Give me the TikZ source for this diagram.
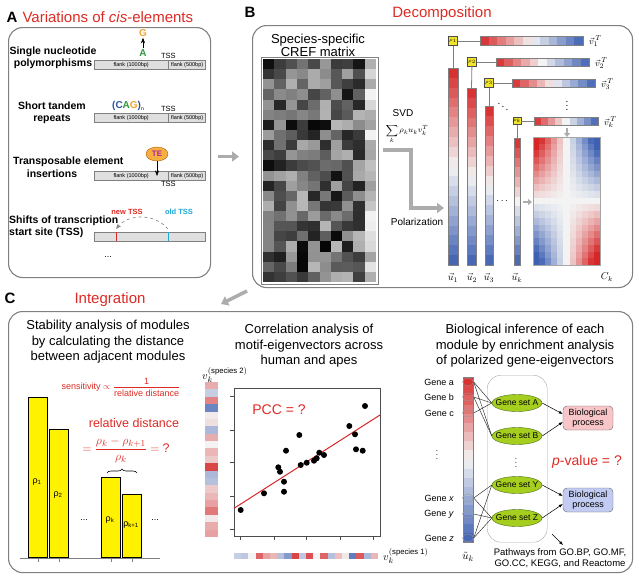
\documentclass[tikz,border=0pt]{standalone}
\usepackage{fontspec}
\setmainfont{Liberation Sans}
\usepackage{amsmath}
\usetikzlibrary{positioning,arrows.meta,shapes.geometric,decorations.pathreplacing}

\definecolor{myred}{RGB}{214,39,40}
\definecolor{myblue}{RGB}{62,96,178}
\definecolor{mymid}{RGB}{243,243,243}
\definecolor{titlered}{RGB}{221,42,36}
\definecolor{snpgreen}{RGB}{46,150,66}
\definecolor{snporange}{RGB}{240,164,44}
\definecolor{cagblue}{RGB}{42,82,160}
\definecolor{tssblue}{RGB}{32,168,212}
\definecolor{tepurple}{RGB}{176,40,150}
\definecolor{teorange}{RGB}{246,176,66}
\definecolor{rhoyellow}{RGB}{242,228,40}
\definecolor{setgreen}{RGB}{166,206,30}
\definecolor{setborder}{RGB}{72,112,22}
\definecolor{procred}{RGB}{248,198,200}
\definecolor{procblue}{RGB}{194,204,242}

\newcommand{\fsz}[2]{\fontsize{#1}{#2}\selectfont}

\newcommand{\divfill}[2]{%
  \pgfmathtruncatemacro{\cpos}{(#2)<0?0:1}%
  \pgfmathsetmacro{\cpct}{min(100,100*abs(#2))}%
  \ifnum\cpos=1 \colorlet{#1}{myred!\cpct!mymid}%
  \else \colorlet{#1}{myblue!\cpct!mymid}\fi}

\newcommand{\vgrad}[5]{%
  \foreach \ii in {1,...,#5}{%
    \pgfmathsetmacro{\cv}{1-2*(\ii-0.5)/#5}%
    \divfill{cellc}{\cv}%
    \pgfmathsetmacro{\ya}{#3+(#4-#3)*(\ii-1)/#5}%
    \pgfmathsetmacro{\yb}{#3+(#4-#3)*\ii/#5+0.2}%
    \fill[cellc] (#1,\ya) rectangle (#2,\yb);}%
  \draw[gray,line width=0.6pt] (#1,#3) rectangle (#2,#4);}

\newcommand{\hgrad}[5]{%
  \foreach \ii in {1,...,#5}{%
    \pgfmathsetmacro{\cv}{1-2*(\ii-0.5)/#5}%
    \divfill{cellc}{\cv}%
    \pgfmathsetmacro{\xa}{#1+(#2-#1)*(\ii-1)/#5}%
    \pgfmathsetmacro{\xb}{#1+(#2-#1)*\ii/#5+0.2}%
    \fill[cellc] (\xa,#3) rectangle (\xb,#4);}%
  \draw[gray,line width=0.6pt] (#1,#3) rectangle (#2,#4);}

\tikzset{
panelbox/.style={
  draw=black!50,
  line width=1.1pt,
  rounded corners=14pt
  },
paneltag/.style={font=\fsz{15}{18}\bfseries,anchor=west},
paneltitle/.style={font=\fsz{15}{18},text=titlered},
subtitle/.style={font=\fsz{13}{15.5},align=center},
rowlabel/.style={font=\fsz{10.5}{12.5}\bfseries,align=center,inner sep=1pt},
base/.style={font=\fsz{10}{10}\bfseries,inner sep=1pt},
flank/.style={
  draw=gray,
  fill=gray!25,
  minimum height=9pt,
  inner sep=0pt,
  font=\fsz{5.5}{6}
  },
tsslabel/.style={font=\fsz{7.5}{9},inner sep=1pt},
rhobox/.style={draw=black!70,fill=rhoyellow,minimum size=9pt,inner sep=0pt,font=\fsz{5.5}{6}},
vlab/.style={anchor=west,font=\fsz{9.5}{10},inner sep=0pt},
link/.style={draw=gray,line width=0.8pt},
grayarrow/.style={draw=gray!65,line width=3.5pt,-{Triangle[length=7pt,width=10pt]}},
smallgray/.style={draw=gray!65,line width=2pt,-{Triangle[length=4pt,width=6pt]}},
yelbar/.style={draw=black,line width=0.8pt,fill=yellow,minimum width=19pt,inner sep=0pt},
rholab/.style={font=\fsz{9}{10}},
genelab/.style={font=\fsz{9}{10},anchor=east,inner sep=1pt},
genedot/.style={ellipse,draw=gray!80,minimum width=11pt,minimum height=8pt,inner sep=0pt},
geneset/.style={ellipse,draw=setborder,fill=setgreen,minimum width=50pt,minimum height=17pt,inner sep=0pt,font=\fsz{8.5}{9}},
procbox/.style={draw=black!60,rounded corners=4pt,minimum width=50pt,minimum height=24pt,inner sep=1pt,align=center,font=\fsz{9}{10}},
arr/.style={-{Latex[length=4pt,width=3pt]},line width=0.5pt},
thinlink/.style={line width=0.45pt,draw=black!85}
}

\begin{document}
\begin{tikzpicture}[x=1pt,y=-1pt,>=Stealth]
\useasboundingbox (0,0) rectangle (639,576);

\node[paneltag] (tagA) at (3,17) {A};
\node[paneltitle,anchor=west] (titleA) at (19,17) {Variations of \textit{cis}-elements};
\node[panelbox,minimum width=202pt,minimum height=250pt,anchor=north west] (boxA) at (8,27) {};

\node[rowlabel] (snplab) at (53,58) {Single nucleotide\\polymorphisms};
\node[flank,minimum width=74pt,anchor=north west] (f1a) at (94,60) {flank (1000bp)};
\node[flank,minimum width=37pt,anchor=west] (f1b) at (f1a.east) {flank (500bp)};
\node[tsslabel,above=0pt of f1b.north west] (tss1) {TSS};
\node[base,text=snporange] (snpG) at (143,33) {G};
\node[base,text=snpgreen] (snpA) at (143,53) {A};
\draw[->,line width=0.6pt] (snpA) -- (snpG);

\node[rowlabel] (strlab) at (52,113) {Short tandem\\repeats};
\node[flank,minimum width=74pt,anchor=north west] (f2a) at (94,113) {flank (1000bp)};
\node[flank,minimum width=37pt,anchor=west] (f2b) at (f2a.east) {flank (500bp)};
\node[tsslabel,above=0pt of f2b.north west] (tss2) {TSS};
\node[base] (cag) at (128,106) {\textcolor{cagblue}{(C}\textcolor{snpgreen}{A}\textcolor{snporange}{G}\textcolor{cagblue}{)}\raisebox{-2pt}{\fsz{5}{5}\mdseries n}};

\node[rowlabel,anchor=west] (telab1) at (12,162) {Transposable element};
\node[rowlabel] (telab2) at (52,174) {insertions};
\node[flank,minimum width=74pt,anchor=north west] (f3a) at (94,171) {flank (1000bp)};
\node[flank,minimum width=37pt,anchor=west] (f3b) at (f3a.east) {flank (500bp)};
\node[tsslabel,below=0pt of f3b.south west] (tss3) {TSS};
\node[ellipse,draw=orange!70!black,fill=teorange,minimum width=22pt,minimum height=14pt,inner sep=0pt,font=\fsz{8}{8}\bfseries,text=tepurple] (te) at (157,154) {TE};
\coordinate (teins) at (157,176);
\draw[->,line width=0.6pt] (te) -- (teins);

\node[rowlabel,anchor=west,align=left] (shiftlab) at (8,227) {Shifts of transcription\\start site (TSS)};
\node[flank,minimum width=111pt,anchor=north west] (f4) at (94,232) {};
\coordinate (newpos) at (116,232);
\coordinate (oldpos) at (168,232);
\draw[myred,line width=1pt] (newpos) -- ++(0,9);
\draw[tssblue,line width=1pt] (oldpos) -- ++(0,9);
\node[tsslabel,font=\fsz{7.5}{9}\bfseries,text=titlered] (newtss) at (127,212) {new TSS};
\node[tsslabel,font=\fsz{7.5}{9}\bfseries,text=tssblue] (oldtss) at (179,212) {old TSS};
\draw[dashed,gray,line width=0.6pt,->] ([yshift=3pt]oldpos) to[bend right=50] ([yshift=3pt]newpos);
\node[font=\fsz{9}{9}] (moreA) at (108,257) {...};

\node[paneltag] (tagB) at (241,12) {B};
\node[paneltitle] (titleB) at (442,14) {Decomposition};
\node[panelbox,minimum width=380pt,minimum height=262pt,anchor=north west] (boxB) at (252,25) {};
\draw[grayarrow] ([xshift=7pt]boxA.east |- boxB.west) -- ([xshift=-13pt]boxB.west);

\node[subtitle,font=\fsz{13}{12}] (creft) at (318,45) {Species-specific\\CREF matrix};
\pgfmathsetseed{11}
\foreach \ri in {1,...,22}{\foreach \ci in {1,...,10}{%
  \pgfmathsetmacro{\gv}{\ci==10 ? 5+35*rnd : 28+70*rnd}%
  \fill[black!\gv!white] ({263+11.3*(\ci-1)},{59+10.136*(\ri-1)}) rectangle ({263+11.3*\ci+0.2},{59+10.136*\ri+0.2});}}
\draw[gray,line width=0.8pt] (261,57) rectangle (378,284);

\node[font=\fsz{10}{12},inner sep=0pt] (svd) at (403,113) {SVD};
\node[font=\fsz{8.5}{9},inner sep=0pt] (svdsum) at (407,134) {$\displaystyle\sum_k \rho_k u_k v_k^T$};
\coordinate (svdstart) at (383,150);
\coordinate (svdbend) at (411,208);
\coordinate (polend) at (444,208);
\draw[grayarrow,line join=miter] (svdstart) -| (svdbend) -- (polend);
\node[font=\fsz{10}{12}] (polar) at (417,222) {Polarization};

\vgrad{448}{458}{68}{265}{20}
\vgrad{467}{476}{88}{265}{18}
\vgrad{485}{493}{106}{265}{16}
\vgrad{514}{520}{138}{265}{13}
\hgrad{480}{583}{36}{45}{12}
\hgrad{496}{589}{58}{66}{11}
\hgrad{512}{595}{79}{87}{10}
\hgrad{534}{598}{117}{125}{9}

\node[rhobox] (rho1) at (453,41) {$\rho_1$};
\node[rhobox] (rho2) at (472,62) {$\rho_2$};
\node[rhobox] (rho3) at (489,83) {$\rho_3$};
\node[rhobox,minimum size=7pt] (rhok) at (517,121) {$\rho_k$};
\coordinate (u1top) at (453,68);
\coordinate (u2top) at (471.5,88);
\coordinate (u3top) at (489,106);
\coordinate (uktop) at (517,138);
\coordinate (v1start) at (480,41);
\coordinate (v2start) at (496,62);
\coordinate (v3start) at (512,83);
\coordinate (vkstart) at (534,121);
\foreach \n in {1,2,3,k}{
  \draw[link] (rho\n) -- (u\n top);
  \draw[link] (rho\n) -- (v\n start);
}
\node[vlab] (v1lab) at (589,41) {$\vec{v}_1^{\,T}$};
\node[vlab] (v2lab) at (595,63) {$\vec{v}_2^{\,T}$};
\node[vlab] (v3lab) at (601,84) {$\vec{v}_3^{\,T}$};
\node[vlab] (vklab) at (604,122) {$\vec{v}_k^{\,T}$};
\node[inner sep=0pt] (ddots) at (503,104) {$\ddots$};
\node[inner sep=0pt] (vdots) at (567,103) {$\vdots$};

\foreach \ri in {1,...,19}{\foreach \ci in {1,...,11}{%
  \pgfmathsetmacro{\cv}{1.35*(1-2*(\ri-0.5)/19)*(1-2*(\ci-0.5)/11)}%
  \divfill{cellc}{\cv}%
  \fill[cellc] ({533+67*(\ci-1)/11},{137+128*(\ri-1)/19}) rectangle ({533+67*\ci/11+0.2},{137+128*\ri/19+0.2});}}
\draw[gray!70,line width=0.6pt] (533,137) rectangle (600,265);
\coordinate (vkarrow) at (567,128);
\coordinate (cktop) at (567,137);
\draw[smallgray] (vkarrow) -- (cktop);
\node (udots) at (503,201) {$\cdots$};
\coordinate (ukarrow) at (523,202);
\coordinate (ckleft) at (532,202);
\draw[smallgray] (ukarrow) -- (ckleft);

\node[font=\fsz{10}{10}] (u1lab) at (453,278) {$\vec{u}_1$};
\node[font=\fsz{10}{10}] (u2lab) at (472,278) {$\vec{u}_2$};
\node[font=\fsz{10}{10}] (u3lab) at (489,278) {$\vec{u}_3$};
\node[font=\fsz{10}{10}] (uklab) at (517,278) {$\vec{u}_k$};
\node[font=\fsz{10}{10}] (cklab) at (607,277) {$C_k$};

\coordinate (bcfrom) at (247,291);
\coordinate (bcto) at (221,304);
\draw[grayarrow] (bcfrom) -- (bcto);

\node[paneltag] (tagC) at (1,298) {C};
\node[paneltitle] (titleC) at (110,300) {Integration};
\node[panelbox,minimum width=624pt,minimum height=261pt,anchor=north west] (boxC) at (8,311) {};

\node[subtitle] (stabt) at (108,342) {Stability analysis of modules\\by calculating the distance\\between adjacent modules};
\node[font=\fsz{9}{10},text=titlered] (sens) at (121,387) {sensitivity $\propto\dfrac{\text{1}}{\text{relative distance}}$};
\node[font=\fsz{12.5}{14},text=titlered,inner sep=0pt] (reldist) at (134,423) {relative distance};
\node[font=\fsz{12.5}{14},text=titlered,inner sep=0pt] (relform) at (126,450) {$=\dfrac{\rho_k-\rho_{k+1}}{\rho_k}=\text{?}$};
\coordinate (bracel) at (107,473);
\coordinate (bracer) at (137,473);
\draw[decorate,decoration={brace,amplitude=4pt},line width=0.6pt] (bracel) -- (bracer);

\node[yelbar,minimum height=160pt,anchor=south west] (bar1) at (28,558) {};
\node[yelbar,minimum height=128pt,anchor=south west] (bar2) at (49,558) {};
\node[yelbar,minimum height=80pt,anchor=south west] (bark) at (101,558) {};
\node[yelbar,minimum height=63pt,anchor=south west] (barkk) at (122,558) {};
\draw[gray,line width=0.6pt] (20,558) -- (160,558);
\foreach \b in {bar1,bar2,bark,barkk}
  \draw[gray,line width=0.6pt] (\b.south) -- ++(0,4);
\node[rholab] (rholab1) at (37,482) {ρ\textsubscript{1}};
\node[rholab] (rholab2) at (58,495) {ρ\textsubscript{2}};
\node[rholab] (rholabk) at (110,520) {ρ\textsubscript{k}};
\node[rholab] (rholabkk) at (131,525) {ρ\textsubscript{k+1}};
\node[font=\fsz{9}{9}] (dots1) at (84,520) {...};
\node[font=\fsz{9}{9}] (dots2) at (155,520) {...};

\node[subtitle] (corrt) at (309,346) {Correlation analysis of\\motif-eigenvectors across\\human and apes};
\node[anchor=west,font=\fsz{11}{11},inner sep=0pt] (sp2lab) at (202,375) {$v_k^{(\text{species 2})}$};
\foreach \cv [count=\ii] in {0.35,-0.25,0.55,-0.75,0.04,0.1,-0.4,0.35,0,0.3,0.2,0.85,-0.4,-0.35,0.2,0.3,0.4,0.6,0.05,0.35,0.4}{%
  \divfill{cellc}{\cv}%
  \fill[cellc] (205,{382+7.38*(\ii-1)}) rectangle (218,{382+7.38*\ii+0.2});}
\draw[black!70,line width=0.6pt] (234,388) rectangle (380,536);
\foreach \t in {396.7,430,462.7,496,529.3}
  \draw[black!70,line width=0.6pt] (234,\t) -- (230,\t);
\foreach \t in {240.7,274,306.7,340,373.3}
  \draw[black!70,line width=0.6pt] (\t,536) -- (\t,540);
\draw[myred,line width=1pt] (234,508.3) -- (380,415);
\foreach \px/\py in {240.7/510,264/493.3,278.3/467.3,280/471.7,284/481.7,284/491.7,286/450.7,299.3/435,300.7/465,306.7/462.7,314/460.7,316.7/458.3,319.3/452.7,324/455,349.3/426,355/434.3,356/449.3,362.7/450.7,365/406}
  \fill (\px,\py) circle[radius=3pt];
\node[font=\fsz{14}{16},text=titlered] (pcc) at (279,410) {PCC = ?};
\foreach \cv [count=\ii] in {-0.25,-0.3,0,0.7,0.4,0.3,-0.35,-0.6,0.85,-0.3,0.8,0,0.7,-0.35,0.25,0.05,-0.8,0.75,-0.4,0.3}{%
  \divfill{cellc}{\cv}%
  \fill[cellc] ({234+7.2*(\ii-1)},553) rectangle ({234+7.2*\ii+0.2},559);}
\node[anchor=west,font=\fsz{11}{11},inner sep=0pt] (sp1lab) at (383,556) {$v_k^{(\text{species 1})}$};

\node[subtitle] (biot) at (525,346) {Biological inference of each\\module by enrichment analysis\\of polarized gene-eigenvectors};
\vgrad{463}{473}{377}{542}{18}
\node[font=\fsz{11}{11}] (utlab) at (468,557) {$\tilde{u}_k$};
\node[draw=gray!70,rounded corners=14pt,minimum width=60pt,minimum height=167pt,anchor=north west] (setbox) at (487,375) {};
\node[genelab] (gla) at (455,382) {Gene a};
\node[genelab] (glb) at (455,397) {Gene b};
\node[genelab] (glc) at (455,413) {Gene c};
\node[genelab] (glx) at (455,498) {Gene \textit{x}};
\node[genelab] (gly) at (455,514) {Gene \textit{y}};
\node[genelab] (glz) at (455,538) {Gene \textit{z}};
\node[font=\fsz{8}{8}] (gdots) at (437,452) {$\vdots$};
\foreach \g/\gy in {a/382,b/397,c/413,x/498,y/514,z/538}
  \node[genedot] (g\g) at (468,\gy) {};
\node[geneset] (setA) at (517,403) {\makebox[0pt]{Gene set A}};
\node[geneset] (setB) at (517,436) {\makebox[0pt]{Gene set B}};
\node[font=\fsz{8}{8}] (sdots) at (516,460) {$\vdots$};
\node[geneset] (setY) at (517,485) {\makebox[0pt]{Gene set Y}};
\node[geneset] (setZ) at (517,518) {\makebox[0pt]{Gene set Z}};
\foreach \g/\s in {a/A,a/B,b/A,b/B,c/A,x/Y,x/Z,y/Z,z/Y,z/Z}
  \draw[thinlink] (g\g.east) -- (set\s.west);
\node[procbox,fill=procred] (proc1) at (588,418) {Biological\\process};
\node[procbox,fill=procblue] (proc2) at (588,500) {Biological\\process};
\draw[arr] (setA.east) -- ([yshift=4pt]proc1.west);
\draw[arr] (setB.east) -- ([yshift=-4pt]proc1.west);
\draw[arr] (setY.east) -- ([yshift=4pt]proc2.west);
\draw[arr] (setZ.east) -- ([yshift=-4pt]proc2.west);
\node[font=\fsz{14}{16},text=titlered] (pval) at (587,462) {\textit{p}-value = ?};
\coordinate (pwfrom) at (552,534);
\coordinate (pwto) at (563,545);
\draw[arr] (pwfrom) -- (pwto);
\node[font=\fsz{9.5}{11},align=center] (pathw) at (560,558) {Pathways from GO.BP, GO.MF,\\GO.CC, KEGG, and Reactome};
\end{tikzpicture}
\end{document}
